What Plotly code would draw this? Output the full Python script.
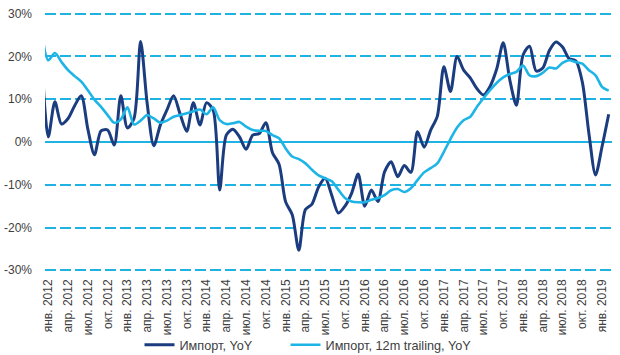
import plotly.graph_objects as go

# ---- data (monthly, Dec 2011 lead-in point + Jan 2012 .. Feb 2019), % YoY ----
month_index = list(range(-1, 86))  # -1 = Dec 2011 (clipped at the left edge)

import_yoy = [
    20.0,
    1.2, 9.4, 4.2, 5.5, 8.5, 10.8, 3.0, -3.0, 2.6, 2.8, -0.7, 10.8,          # 2012
    3.3, 5.5, 23.5, 9.0, -0.9, 4.0, 7.5, 10.8, 6.5, 2.5, 9.2, 4.0,          # 2013
    9.2, 7.5, -11.2, 1.6, 3.0, 1.2, -1.7, 1.6, 2.0, 4.5, -2.5, -5.2,        # 2014
    -14.0, -17.0, -25.3, -15.8, -14.5, -10.5, -8.5, -12.5, -16.6, -15.0, -12.0, -7.5,  # 2015
    -15.0, -11.2, -13.9, -7.0, -4.6, -8.1, -5.5, -7.1, 2.4, -1.2, 2.8, 6.0,  # 2016
    17.6, 11.8, 20.0, 16.8, 15.0, 12.5, 11.0, 13.0, 17.0, 23.2, 14.5, 8.6,   # 2017
    20.3, 22.4, 16.6, 17.3, 21.4, 23.4, 22.2, 19.5, 19.0, 14.0, 2.0, -7.7,   # 2018
    -1.0, 6.5,                                                               # 2019
]

import_12m = [
    26.0,
    19.1, 20.8, 18.7, 16.8, 15.4, 14.1, 12.1, 9.9, 8.2, 6.3, 4.5, 5.3,       # 2012
    8.1, 4.1, 5.0, 6.3, 5.5, 4.5, 5.0, 5.9, 6.3, 6.7, 7.2, 7.6,              # 2013
    6.5, 8.1, 5.1, 4.2, 4.4, 4.7, 3.6, 2.8, 2.6, 2.6, 1.6, 0.9,              # 2014
    -1.5, -3.4, -4.0, -5.0, -6.5, -7.8, -8.5, -9.2, -11.2, -13.1, -13.9, -14.1,  # 2015
    -14.1, -13.5, -13.1, -12.4, -11.3, -11.0, -11.7, -10.8, -8.9, -7.1, -6.1, -5.0,  # 2016
    -2.3, 0.7, 3.4, 5.1, 5.9, 8.2, 10.2, 12.1, 13.8, 15.1, 15.9, 16.4,       # 2017
    17.9, 15.6, 15.4, 16.2, 17.4, 17.2, 18.5, 19.1, 18.7, 18.3, 16.8, 15.6,  # 2018
    12.9, 12.0,                                                              # 2019
]

tick_positions = list(range(0, 85, 3))
tick_labels = [
    "янв. 2012", "апр. 2012", "июл. 2012", "окт. 2012",
    "янв. 2013", "апр. 2013", "июл. 2013", "окт. 2013",
    "янв. 2014", "апр. 2014", "июл. 2014", "окт. 2014",
    "янв. 2015", "апр. 2015", "июл. 2015", "окт. 2015",
    "янв. 2016", "апр. 2016", "июл. 2016", "окт. 2016",
    "янв. 2017", "апр. 2017", "июл. 2017", "окт. 2017",
    "янв. 2018", "апр. 2018", "июл. 2018", "окт. 2018",
    "янв. 2019",
]

y_ticks = [-30, -20, -10, 0, 10, 20, 30]
y_labels = ["-30%", "-20%", "-10%", "0%", "10%", "20%", "30%"]

series_names = ["Импорт, YoY", "Импорт, 12m trailing, YoY"]

DARK = "#1b3d80"
LIGHT = "#1db4e6"
GRID = "#1fb3e3"
TEXT = "#404040"
FONT = "Liberation Sans, Arial, sans-serif"
PAD = "\u00a0" * 8

fig = go.Figure()
fig.add_trace(go.Scatter(
    x=month_index, y=import_yoy, name=series_names[0] + PAD, mode="lines",
    line=dict(color=DARK, width=3, shape="spline", smoothing=0.8),
))
fig.add_trace(go.Scatter(
    x=month_index, y=import_12m, name=series_names[1], mode="lines",
    line=dict(color=LIGHT, width=2.6, shape="spline", smoothing=0.8),
))

fig.update_layout(
    width=620, height=355,
    margin=dict(l=45, r=8, t=11.6, b=82.6, autoexpand=False),
    paper_bgcolor="white", plot_bgcolor="rgba(0,0,0,0)",
    font=dict(family=FONT, size=12, color=TEXT),
    showlegend=True,
    legend=dict(
        orientation="h", xref="container", yref="container",
        x=0.225, xanchor="left", y=0.028, yanchor="middle",
        font=dict(family=FONT, size=12.7, color=TEXT),
        bgcolor="rgba(0,0,0,0)", itemwidth=30,
    ),
    xaxis=dict(
        range=[-0.5, 85.5], tickmode="array", tickvals=tick_positions, ticktext=tick_labels,
        tickangle=-90, ticks="", showgrid=False, zeroline=False, showline=False,
        tickfont=dict(family=FONT, size=12, color=TEXT), ticklabelstandoff=4,
        automargin=False,
    ),
    yaxis=dict(
        range=[-30.4, 30.4], tickmode="array", tickvals=y_ticks, ticktext=y_labels,
        showgrid=True, gridcolor=GRID, gridwidth=1.5, griddash="11px,4px",
        zeroline=True, zerolinecolor=GRID, zerolinewidth=1.5,
        showline=False, ticks="", ticklabelstandoff=12,
        tickfont=dict(family=FONT, size=12, color=TEXT), automargin=False,
    ),
)

fig.write_html("out.html", post_script="document.body.style.margin='0';",
               config={"displayModeBar": False})
